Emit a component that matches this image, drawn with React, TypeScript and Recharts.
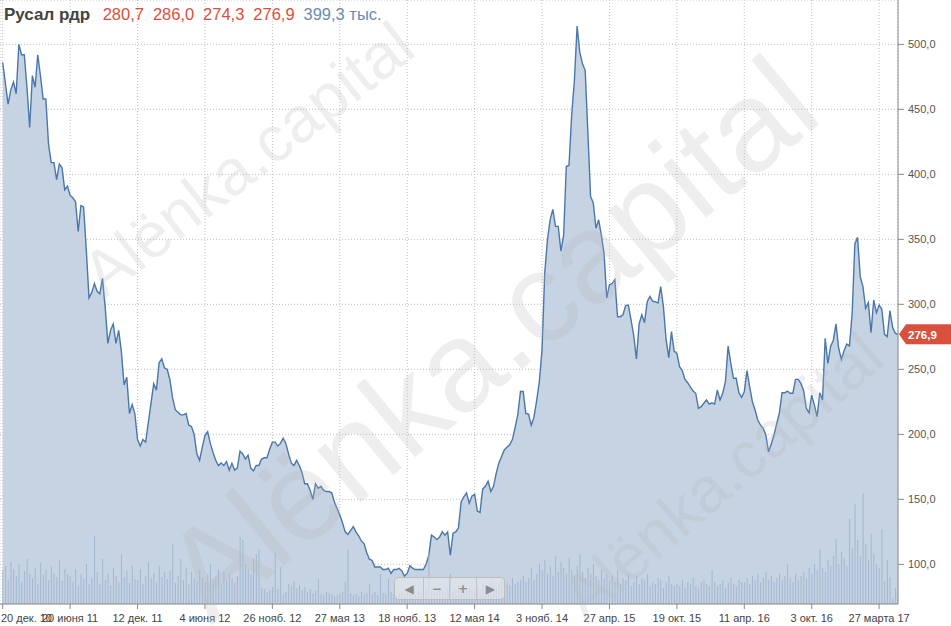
import React from 'react';
import { ComposedChart, Area, Bar, XAxis, YAxis, CartesianGrid, ReferenceLine } from 'recharts';

// Weekly close prices (index 0 = week of 20 Dec 2010)
const priceClose: number[] = [
  486, 470, 454, 465, 471, 462, 500, 492, 492, 467,
  436, 476, 467, 492, 476, 458, 458, 423, 409, 409,
  396, 408, 405, 388, 391, 384, 382, 379, 356, 376,
  375, 342, 305, 309, 316, 310, 308, 320, 298, 270,
  280, 285, 270, 280, 264, 238, 244, 216, 223, 216,
  196, 191, 196, 194, 209, 224, 239, 234, 255, 258,
  251, 250, 242, 228, 219, 217, 215, 215, 216, 207,
  206, 200, 185,
  180, 190, 199, 202, 193, 186, 180, 176, 178, 176, 179,
  172.5, 177.7, 172.5, 174, 187, 185, 181, 184, 174, 172,
  176, 176, 181, 182, 182, 188.5, 194, 194, 191, 193,
  197, 193, 185, 178, 176, 180, 176, 170.5, 162, 162,
  157, 150, 162, 158.5, 160, 157, 156, 156, 155, 148,
  143, 138, 132, 125, 123, 126, 129, 125, 122, 118,
  116, 109, 104, 103, 98, 98, 98, 96, 96, 97,
  93, 96, 96, 97, 95, 91, 93, 99, 97, 96,
  96, 96, 96, 100, 107, 122.5, 121, 119, 121, 125,
  122.5, 125, 107, 124, 125, 128, 148, 152, 155, 147,
  152.5, 154, 141, 140, 158, 160, 164, 156,
  160, 170, 178, 183, 188, 190, 192, 196, 205, 215,
  233, 233, 216, 215.6, 207, 213, 226, 240.5, 265, 324,
  349.5, 365, 373, 360, 360, 341, 353, 406, 407, 446,
  472, 514, 494, 485, 480, 432, 383, 378, 358.5, 365,
  353, 339, 305, 315, 316, 319, 290.5, 290.5, 292, 299,
  299.5, 288, 276, 258, 285, 292, 286, 302, 306, 302.5,
  302, 301, 313.6, 298.5, 273, 259, 279, 264, 262.3, 252,
  249, 242.3, 239.7, 236.6, 233.3, 231.6, 220, 221.3, 223.9, 226.4,
  223.3, 224.3, 223.3, 234.1, 226.4, 231.6, 240.5, 267.9, 254.6, 243.1,
  243.1, 232, 228.5, 232.8, 249, 236.6, 225.1, 218.7, 211, 207.2,
  204.6, 199.5, 186.6, 192.5, 199.5, 208, 216.2, 232, 232, 233.3,
  231.6, 231.6, 242.3, 242.3, 239.2, 233.6, 220, 216.6, 230.2, 222.5,
  213.6, 232, 226.4, 273.9, 254.6, 267.6, 272.2, 285, 266.2, 257.7,
  264.3, 269.5, 268, 293, 346.4, 351.5, 321.3, 313.6, 296.9, 301.3,
  278.2, 303.3, 293.6, 299.5, 296.2, 276.9, 275.1, 295.1, 282.3, 277.7,
  276.9,
];

// Weekly volume, thousands
const volumeK: number[] = [
  850, 950, 600, 1050, 875, 700, 1000, 550, 825, 1125, 750, 650, 900, 500, 1025, 725, 850, 600, 950, 775, 675, 1100, 575, 875, 750,
  700, 550, 875, 450, 750, 625, 1000, 500, 650, 1700, 800, 500, 1125, 600, 750, 475, 900, 700, 550, 1250, 675, 825, 525, 950, 625,
  600, 875, 500, 700, 1050, 650, 775, 550, 950, 675, 800, 625, 825, 1500, 525, 700, 1125, 600, 900, 500, 800, 650, 575, 850, 650,
  550, 750, 1000, 625, 700, 875, 500, 800, 600, 750, 650, 550, 700, 1675, 1600, 1000, 875, 750, 1150, 1250, 1375, 400, 375, 300, 350,
  425, 1275, 375, 925, 250, 300, 500, 450, 575, 400, 475, 350, 425, 300, 375, 275, 325, 625, 250, 225, 300, 275, 250, 200, 225,
  250, 300, 550, 1350, 275, 225, 250, 200, 300, 225, 275, 500, 250, 300, 225, 750, 275, 250, 625, 300, 250, 225, 275, 300, 250,
  300, 275, 350, 250, 300, 325, 275, 400, 1275, 350, 300, 275, 425, 350, 300, 400, 750, 325, 375, 450, 350, 300, 400, 425, 350,
  375, 425, 350, 500, 450, 400, 550, 475, 400, 500, 600, 450, 525, 475, 650, 500, 550, 600, 700, 550, 650, 900, 600, 750, 1000,
  850, 1100, 750, 950, 700, 1200, 800, 1050, 900, 750, 1150, 850, 700, 950, 1250, 800, 650, 900, 750, 1000, 700, 600, 850, 650, 750,
  600, 700, 550, 850, 500, 650, 600, 750, 450, 550, 700, 500, 650, 600, 750, 450, 550, 500, 650, 600, 400, 550, 700, 500, 450,
  500, 450, 600, 400, 550, 500, 650, 450, 400, 550, 600, 500, 450, 850, 550, 450, 500, 600, 400, 550, 650, 500, 450, 600, 550,
  550, 650, 500, 700, 600, 750, 550, 650, 800, 600, 700, 550, 650, 750, 600, 700, 1000, 650, 550, 750, 600, 700, 800, 650, 900,
  750, 1000, 850, 1375, 900, 800, 1100, 950, 1200, 1625, 1000, 1300, 1150, 950, 2125, 1400, 2500, 1600, 1200, 2775, 1500, 1100, 1750, 1250, 1000,
  900, 1875, 575, 1100, 675, 150, 400, 399.3,
];

const tickIndex: number[] = [0, 25, 50, 75, 100, 125, 150, 175, 200, 225, 250, 275, 300, 325];
const tickLabels: string[] = [
  '20 дек. 10', '20 июня 11', '12 дек. 11', '4 июня 12', '26 нояб. 12', '27 мая 13', '18 нояб. 13',
  '12 мая 14', '3 нояб. 14', '27 апр. 15', '19 окт. 15', '11 апр. 16', '3 окт. 16', '27 марта 17',
];
const priceTicks: number[] = [100, 150, 200, 250, 300, 350, 400, 450, 500];

const titleName = 'Русал рдр';
const titleOHLC: string[] = ['280,7', '286,0', '274,3', '276,9'];
const titleVolume = '399,3 тыс.';
const lastPrice = 276.9;
const watermark = 'Alënka.capital';

const data = priceClose.map((p, i) => ({ i, p, v: volumeK[i] }));

const FONT = '"Liberation Sans", Arial, Helvetica, sans-serif';
const fmt = (v: number) => v.toFixed(1).replace('.', ',');

const XTick = (props: any) => {
  const { x, y, payload } = props;
  const idx = tickIndex.indexOf(payload.value);
  const label = idx >= 0 ? tickLabels[idx] : '';
  const first = idx === 0;
  return (
    <text
      x={first ? 1 : x}
      y={y}
      dy="0.71em"
      textAnchor={first ? 'start' : 'middle'}
      fill="#444"
      fontSize={11}
      fontFamily={FONT}
    >
      {label}
    </text>
  );
};

const PriceTag = (props: any) => {
  const vb = props.viewBox || {};
  const x = (vb.x ?? 0) + (vb.width ?? 0);
  const y = vb.y ?? 0;
  return (
    <g>
      <path
        d={`M${x + 1},${y} L${x + 8},${y - 10} L${x + 54},${y - 10} L${x + 54},${y + 10} L${x + 8},${y + 10} Z`}
        fill="#d9513d"
      />
      <text x={x + 10} y={y} dy="0.36em" fill="#fff" fontSize={11.5} fontWeight="bold" fontFamily={FONT}>
        {fmt(lastPrice)}
      </text>
    </g>
  );
};

const navBtn = (w: number, sym: string, first: boolean) => (
  <div
    key={sym}
    style={{
      width: w,
      height: '100%',
      borderLeft: first ? 'none' : '1px solid #c4c4c4',
      display: 'flex',
      alignItems: 'center',
      justifyContent: 'center',
      color: '#8c8c8c',
      fontSize: 12,
      fontWeight: 'bold',
      fontFamily: '"DejaVu Sans", sans-serif',
    }}
  >
    {sym}
  </div>
);

export default function App() {
  return (
    <div style={{ position: 'absolute', left: 0, top: 0, width: 951, height: 626, background: '#fff', overflow: 'hidden' }}>
      <ComposedChart width={951} height={626} data={data} margin={{ top: 0, right: 0, bottom: 0, left: 0 }}>
        <CartesianGrid strokeDasharray="1 2" stroke="#c2c2c2" />
        <XAxis
          dataKey="i"
          type="number"
          domain={[-1, 332]}
          ticks={tickIndex}
          interval={0}
          allowDataOverflow
          height={22}
          tickSize={5}
          tickMargin={5}
          stroke="#8a8a8a"
          tick={XTick}
        />
        <YAxis
          orientation="right"
          domain={[69.5, 534.1]}
          ticks={priceTicks}
          allowDataOverflow
          width={53}
          tickSize={6}
          tickMargin={4}
          stroke="#8a8a8a"
          tickFormatter={fmt}
          tick={{ fill: '#555', fontSize: 11, fontFamily: FONT }}
        />
        <YAxis yAxisId="v" hide domain={[0, 15100]} />
        <Area
          type="linear"
          dataKey="p"
          stroke="#4a77ab"
          strokeWidth={1.4}
          fill="#c6d3e3"
          fillOpacity={1}
          isAnimationActive={false}
          dot={false}
          activeDot={false}
        />
        <Bar dataKey="v" yAxisId="v" barSize={1} fill="#a3b7cf" isAnimationActive={false} />
        <ReferenceLine y={lastPrice} stroke="none" ifOverflow="visible" label={PriceTag} />
      </ComposedChart>

      <svg width={951} height={626} style={{ position: 'absolute', left: 0, top: 0, pointerEvents: 'none' }}>
        <g fill="#b8b8b8" fillOpacity={0.24} fontFamily={FONT}>
          <text x={248} y={159} fontSize={64} textAnchor="middle" dominantBaseline="central" transform="rotate(-38 248 159)">
            {watermark}
          </text>
          <text x={490} y={338} fontSize={128} textAnchor="middle" dominantBaseline="central" transform="rotate(-39.5 490 338)">
            {watermark}
          </text>
          <text x={722} y={476} fontSize={64} textAnchor="middle" dominantBaseline="central" transform="rotate(-40.8 722 476)">
            {watermark}
          </text>
        </g>
        <text x={4} y={19.5} fontSize={17} fontWeight="bold" fill="#444" fontFamily={FONT}>
          {titleName}
        </text>
        {titleOHLC.map((t, k) => (
          <text key={k} x={102.7 + k * 50.2} y={19.5} fontSize={16.5} fill="#dc4f3b" fontFamily={FONT}>
            {t}
          </text>
        ))}
        <text x={303.5} y={19.5} fontSize={16.5} fill="#6b8cb1" fontFamily={FONT}>
          {titleVolume}
        </text>
      </svg>

      <div
        style={{
          position: 'absolute',
          left: 394,
          top: 577,
          width: 111,
          height: 23,
          border: '1px solid #bdbdbd',
          borderRadius: 4,
          background: 'rgba(236,236,236,0.55)',
          display: 'flex',
          boxSizing: 'border-box',
        }}
      >
        {navBtn(29, '◀', true)}
        {navBtn(26, '−', false)}
        {navBtn(26, '+', false)}
        {navBtn(28, '▶', false)}
      </div>
    </div>
  );
}
